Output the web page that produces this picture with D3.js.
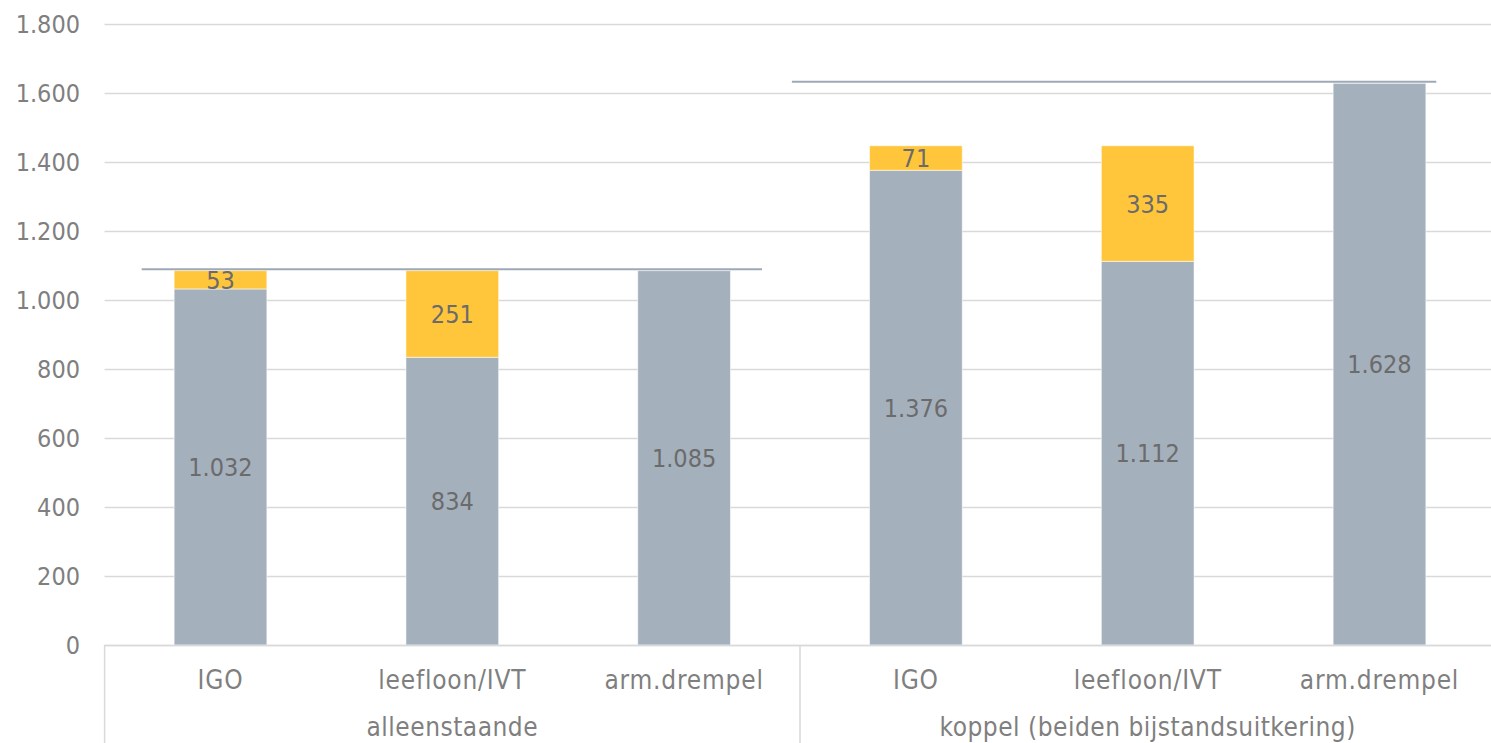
<!DOCTYPE html>
<html><head><meta charset="utf-8">
<script src="https://cdn.jsdelivr.net/npm/d3@7"></script>
<style>
html,body{margin:0;padding:0;background:#fff;}
svg{display:block;font-family:"DejaVu Sans Condensed","DejaVu Sans",sans-serif;}
</style></head>
<body>
<svg id="chart" width="1491" height="743"></svg>
<script>
const groups = ["alleenstaande", "koppel (beiden bijstandsuitkering)"];
const categories = ["IGO", "leefloon/IVT", "arm.drempel", "IGO", "leefloon/IVT", "arm.drempel"];
const groupOf = [0, 0, 0, 1, 1, 1];
const baseValues = [1032, 834, 1085, 1376, 1112, 1628];
const topValues = [53, 251, 0, 71, 335, 0];
const thresholds = [1085, 1628];
const yTicks = [0, 200, 400, 600, 800, 1000, 1200, 1400, 1600, 1800];

const loc = d3.formatLocale({decimal: ",", thousands: ".", grouping: [3], currency: ["€", ""]});
const fmt = loc.format(",d");

const svg = d3.select("#chart");
const left = 104.6, step = 231.8;
const x = d3.scaleBand().domain(d3.range(categories.length))
  .range([left, left + step * categories.length]).paddingInner(0.6).paddingOuter(0.3);
const y = d3.scaleLinear().domain([0, 1800]).range([645, 24]);

const grid = "#d9d9d9";
const gray = "#a5b0bd";
const yellow = "#ffc63b";
const fontSize = 25;

// gridlines
svg.append("g").selectAll("line").data(yTicks).join("line")
  .attr("x1", left).attr("x2", 1491)
  .attr("y1", d => Math.round(y(d)) + 0.5).attr("y2", d => Math.round(y(d)) + 0.5)
  .attr("stroke", grid).attr("stroke-width", 1.5);

// y tick labels
svg.append("g").selectAll("text").data(yTicks).join("text")
  .attr("x", 80).attr("y", d => y(d)).attr("dy", "0.36em")
  .attr("text-anchor", "end").attr("fill", "#7f7f7f").attr("font-size", fontSize)
  .text(d => fmt(d));

// bars
const cx = i => x(i) + x.bandwidth() / 2;
const bars = svg.append("g");
bars.selectAll("rect.base").data(baseValues).join("rect")
  .attr("x", (d, i) => x(i)).attr("width", x.bandwidth())
  .attr("y", d => y(d)).attr("height", d => y(0) - y(d))
  .attr("fill", gray).attr("stroke", "rgba(255,255,255,0.55)").attr("stroke-width", 1);
bars.selectAll("rect.top").data(topValues).join("rect")
  .attr("x", (d, i) => x(i)).attr("width", x.bandwidth())
  .attr("y", (d, i) => y(baseValues[i] + d)).attr("height", (d, i) => y(baseValues[i]) - y(baseValues[i] + d))
  .attr("fill", yellow).attr("stroke", "rgba(255,255,255,0.55)").attr("stroke-width", 1)
  .style("display", d => d > 0 ? null : "none");

// threshold lines
const lineExt = [[0, -0.34, 2, 0.336], [3, -0.535, 5, 0.245]];
svg.append("g").selectAll("line").data(thresholds).join("line")
  .attr("x1", (d, i) => cx(lineExt[i][0]) + lineExt[i][1] * step)
  .attr("x2", (d, i) => cx(lineExt[i][2]) + lineExt[i][3] * step)
  .attr("y1", d => y(d) - 1.5).attr("y2", d => y(d) - 1.5)
  .attr("stroke", "#9ea9b7").attr("stroke-width", 2);

// value labels
const labels = svg.append("g").attr("fill", "#6b6b6b").attr("font-size", fontSize).attr("text-anchor", "middle");
labels.selectAll("text.b").data(baseValues).join("text")
  .attr("x", (d, i) => cx(i)).attr("y", d => y(d / 2)).attr("dy", "0.36em")
  .text(d => fmt(d));
labels.selectAll("text.t").data(topValues).join("text")
  .attr("x", (d, i) => cx(i)).attr("y", (d, i) => y(baseValues[i] + d / 2)).attr("dy", "0.36em")
  .text(d => d > 0 ? fmt(d) : "");

// axis line
svg.append("line").attr("x1", left).attr("x2", 1491).attr("y1", 645.5).attr("y2", 645.5)
  .attr("stroke", grid).attr("stroke-width", 1.5);

// category labels
svg.append("g").selectAll("text").data(categories).join("text")
  .attr("x", (d, i) => cx(i)).attr("y", 680).attr("dy", "0.36em")
  .attr("text-anchor", "middle").attr("fill", "#7f7f7f").attr("font-size", 26)
  .attr("letter-spacing", 0.8)
  .text(d => d);

// group separators and labels
const seps = [0, 3, 6];
svg.append("g").selectAll("line").data(seps).join("line")
  .attr("x1", d => left + d * step).attr("x2", d => left + d * step)
  .attr("y1", 645).attr("y2", 743).attr("stroke", grid).attr("stroke-width", 1.5);
svg.append("g").selectAll("text").data(groups).join("text")
  .attr("x", (d, gi) => {
    const idx = d3.range(categories.length).filter(i => groupOf[i] === gi);
    return (cx(idx[0]) + cx(idx[idx.length - 1])) / 2;
  })
  .attr("y", 727).attr("dy", "0.36em")
  .attr("text-anchor", "middle").attr("fill", "#7f7f7f").attr("font-size", 26)
  .attr("letter-spacing", 0.5)
  .text(d => d);
</script>
</body></html>
